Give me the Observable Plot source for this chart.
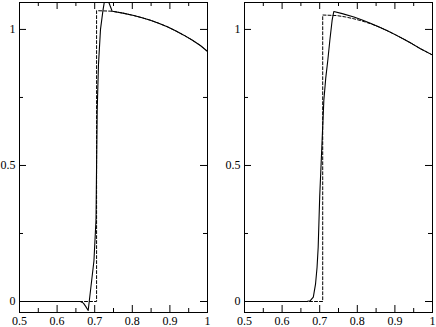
<!DOCTYPE html>
<html>
<head>
<meta charset="utf-8">
<script src="https://cdn.jsdelivr.net/npm/d3@7"></script>
<script src="https://cdn.jsdelivr.net/npm/@observablehq/plot@0.6"></script>
<style>
  html, body { margin: 0; padding: 0; background: #fff; }
  #wrap { position: relative; width: 436px; height: 327px; display: flex; }
</style>
</head>
<body>
<div id="wrap"></div>
<script>
// ---- data ----
const xLabelTicks = [0.5, 0.6, 0.7, 0.8, 0.9, 1];
const xMajorTicks = [0.5, 0.6, 0.7, 0.8, 0.9, 1];
const xMinorTicks = [0.55, 0.65, 0.75, 0.85, 0.95];
const yLabelTicks = [0, 0.5, 1];
const yMinorTicks = [0.25, 0.75];

// left panel
const leftSolidX = [0.5, 0.662, 0.670, 0.676, 0.6827, 0.698, 0.7035, 0.705, 0.7066, 0.710, 0.7154, 0.722, 0.729, 0.7465, 0.775, 0.804, 0.826, 0.848, 0.870, 0.893, 0.915, 0.937, 0.959, 0.981, 1.0];
const leftSolidY = [0, 0, -0.006, -0.018, -0.033, 0.15, 0.30, 0.50, 0.70, 0.87, 1.0, 1.07, 1.13, 1.067, 1.060, 1.051, 1.043, 1.034, 1.023, 1.010, 0.995, 0.979, 0.961, 0.941, 0.919];
const leftDashX = [0.5, 0.705, 0.705, 0.7465, 0.775, 0.804, 0.826, 0.848, 0.870, 0.893, 0.915, 0.937, 0.959, 0.981, 1.0];
const leftDashY = [0, 0, 1.069, 1.067, 1.060, 1.051, 1.043, 1.034, 1.023, 1.010, 0.995, 0.979, 0.961, 0.941, 0.919];

// right panel
const rightSolidX = [0.5, 0.665, 0.675, 0.683, 0.689, 0.693, 0.696, 0.700, 0.705, 0.711, 0.716, 0.7215, 0.727, 0.733, 0.7375, 0.76, 0.791, 0.813, 0.835, 0.858, 0.88, 0.902, 0.924, 0.946, 0.968, 1.0];
const rightSolidY = [0, 0, 0.003, 0.016, 0.065, 0.126, 0.20, 0.385, 0.546, 0.739, 0.82, 0.886, 0.96, 1.033, 1.066, 1.058, 1.046, 1.035, 1.023, 1.009, 0.995, 0.980, 0.964, 0.947, 0.929, 0.906];
const rightDashX = [0.5, 0.708, 0.708, 0.745, 0.768, 0.791, 0.813, 0.835, 0.858, 0.88, 0.902, 0.924, 0.946, 0.968, 1.0];
const rightDashY = [0, 0, 1.053, 1.051, 1.046, 1.039, 1.031, 1.021, 1.009, 0.995, 0.980, 0.964, 0.947, 0.929, 0.906];

const toRows = (xs, ys) => xs.map((x, i) => ({x, y: ys[i]}));

const H = 327, MT = 2, MB = 15, FW = 188;
const FH = H - MT - MB;
const MAJ = 7, MIN = 4;

function panel(solid, dash, marginLeft, marginRight) {
  const width = marginLeft + FW + marginRight;
  return Plot.plot({
    width, height: H,
    marginTop: MT, marginBottom: MB, marginLeft, marginRight,
    style: {fontFamily: "'Liberation Serif', 'Times New Roman', serif", fontSize: "12px", background: "#fff", color: "#000"},
    x: {domain: [0.5, 1], label: null},
    y: {domain: [-0.0404, 1.099], label: null},
    marks: [
      Plot.line(dash, {x: "x", y: "y", stroke: "#000", strokeWidth: 1, strokeDasharray: "3,2", clip: true}),
      Plot.line(solid, {x: "x", y: "y", stroke: "#000", strokeWidth: 1.1, clip: true}),
      // inward ticks: bottom / top
      Plot.ruleX(xMajorTicks, {x: d => d, insetTop: FH - MAJ, stroke: "#000"}),
      Plot.ruleX(xMinorTicks, {x: d => d, insetTop: FH - MIN, stroke: "#000"}),
      Plot.ruleX(xMajorTicks, {x: d => d, insetBottom: FH - MAJ, stroke: "#000"}),
      Plot.ruleX(xMinorTicks, {x: d => d, insetBottom: FH - MIN, stroke: "#000"}),
      // inward ticks: left / right
      Plot.ruleY(yLabelTicks, {y: d => d, insetRight: FW - MAJ, stroke: "#000"}),
      Plot.ruleY(yMinorTicks, {y: d => d, insetRight: FW - MIN, stroke: "#000"}),
      Plot.ruleY(yLabelTicks, {y: d => d, insetLeft: FW - MAJ, stroke: "#000"}),
      Plot.ruleY(yMinorTicks, {y: d => d, insetLeft: FW - MIN, stroke: "#000"}),
      Plot.axisX(xLabelTicks, {tickSize: 0, tickPadding: 4, fill: "#000", fontSize: 12, tickFormat: d => d === 1 ? "1" : d.toFixed(1)}),
      Plot.axisY(yLabelTicks, {tickSize: 0, tickPadding: 4, fill: "#000", fontSize: 12, tickFormat: d => String(d)}),
      Plot.frame({stroke: "#000"})
    ]
  });
}

const wrap = document.getElementById("wrap");
wrap.appendChild(panel(toRows(leftSolidX, leftSolidY), toRows(leftDashX, leftDashY), 19, 11));
wrap.appendChild(panel(toRows(rightSolidX, rightSolidY), toRows(rightDashX, rightDashY), 26, 4));
</script>
</body>
</html>
